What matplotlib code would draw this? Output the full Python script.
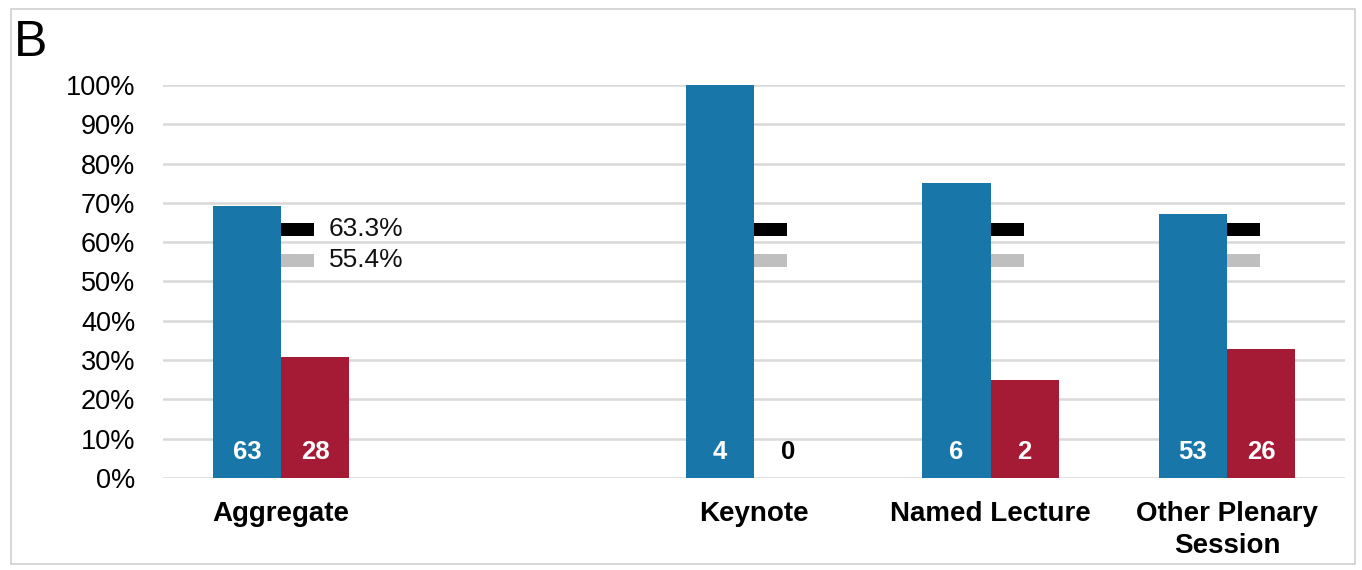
import matplotlib
matplotlib.use("Agg")
import matplotlib.pyplot as plt
from matplotlib.patches import Rectangle

plt.rcParams['font.family'] = ['Liberation Sans', 'DejaVu Sans']

categories = ["Aggregate", "", "Keynote", "Named Lecture", "Other Plenary\nSession"]
blue_pct = [69.2, None, 100.0, 75.0, 67.1]
red_pct = [30.8, None, 0.0, 25.0, 32.9]
blue_n = ["63", None, "4", "6", "53"]
red_n = ["28", None, "0", "2", "26"]
ref_black = 63.3
ref_gray = 55.4
yticks = list(range(0, 101, 10))

BLUE = "#1877a8"
RED = "#a51b36"

fig = plt.figure(figsize=(13.62, 5.70), dpi=100)
ax = fig.add_axes([0.1197, 0.1614, 0.868, 0.6895])
ax.set_xlim(-0.5, 4.5)
ax.set_ylim(0, 100)

bw = 0.288
for i, cat in enumerate(categories):
    if blue_pct[i] is None:
        continue
    ax.bar(i - bw / 2, blue_pct[i], width=bw, color=BLUE, zorder=3)
    ax.bar(i + bw / 2, red_pct[i], width=bw, color=RED, zorder=3)
    ax.text(i - bw / 2, 6.6, blue_n[i], ha='center', va='center', color='white',
            fontsize=18.5, fontweight='bold', zorder=5)
    rc = 'white' if red_pct[i] > 5 else 'black'
    ax.text(i + bw / 2, 6.6, red_n[i], ha='center', va='center', color=rc,
            fontsize=18.5, fontweight='bold', zorder=5)
    # reference markers
    ax.bar(i, 3.3, bottom=ref_black - 1.65, width=0.14, align='edge', color='black', zorder=4)
    ax.bar(i, 3.3, bottom=ref_gray - 1.65, width=0.14, align='edge', color='#bfbfbf', zorder=4)
    ax.text(i, -5.9, cat, ha='center', va='top', fontsize=20,
            fontweight='bold', linespacing=1.3)

ax.text(0.2, ref_black, f"{ref_black}%", ha='left', va='center', fontsize=19, color='#111111')
ax.text(0.2, ref_gray, f"{ref_gray}%", ha='left', va='center', fontsize=19, color='#111111')

ax.set_yticks(yticks)
ax.set_yticklabels([f"{t}%" for t in yticks], fontsize=19.5)
ax.set_xticks([])
ax.tick_params(axis='y', length=0, pad=20)
ax.yaxis.grid(True, color='#d9d9d9', linewidth=1.8)
ax.set_axisbelow(True)
for s in ax.spines.values():
    s.set_visible(False)

fig.text(0.0105, 0.925, "B", fontsize=36, ha='left', va='center')
fig.patches.append(Rectangle((0.008, 0.01), 0.987, 0.975, transform=fig.transFigure,
                             fill=False, edgecolor='#d0d0d0', linewidth=1.2))

fig.savefig("out.png", dpi=100)
